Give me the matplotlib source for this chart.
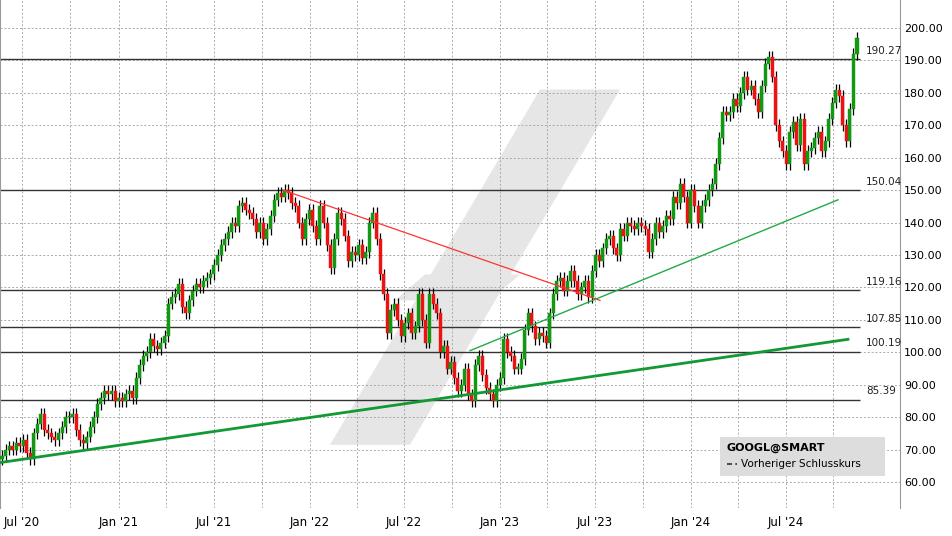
import matplotlib.pyplot as plt
from matplotlib.patches import Polygon, FancyBboxPatch

# weekly closes
closes = [68, 70, 71, 70, 72, 71, 73, 69, 67, 75, 78, 81, 76, 75, 74, 73, 75, 77, 80, 80,
          81, 76, 73, 72, 74, 77, 80, 84, 86, 88, 87, 88, 85, 86, 85, 87, 88, 86, 92, 96,
          99, 100, 104, 102, 101, 103, 105, 115, 117, 118, 121, 114, 112, 116, 119, 121, 120, 122,
          123, 124, 127, 130, 133, 135, 137, 140, 139, 145, 146, 144, 143, 141, 137, 140, 135, 138,
          142, 147, 149, 148, 150, 149, 146, 145, 140, 135, 141, 144, 139, 135, 145, 140, 133, 126,
          135, 143, 141, 136, 128, 131, 130, 133, 129, 131, 140, 143, 135, 124, 118, 106, 113, 115,
          110, 105, 109, 112, 106, 108, 118, 110, 103, 118, 115, 112, 100, 102, 95, 97, 92, 88,
          90, 95, 87, 85, 96, 99, 93, 89, 87, 85, 90, 92, 104, 100, 99, 95, 95, 98, 107, 112,
          108, 104, 106, 105, 103, 112, 118, 122, 123, 119, 122, 125, 122, 118, 120, 122, 117, 125,
          130, 128, 132, 135, 136, 132, 130, 138, 136, 140, 139, 138, 140, 139, 138, 131, 135, 140,
          137, 139, 142, 141, 148, 146, 152, 148, 140, 150, 145, 140, 145, 147, 150, 152, 158, 166,
          174, 173, 174, 178, 176, 180, 185, 181, 182, 178, 174, 182, 189, 191, 185, 170, 165, 162,
          158, 168, 171, 164, 172, 158, 162, 163, 166, 168, 162, 165, 172, 177, 181, 179, 170, 165,
          175, 192, 197]
first_open = 67

levels = [190.27, 150.04, 119.16, 107.85, 100.19, 85.39]
tick_labels = ["Jul '20", "Jan '21", "Jul '21", "Jan '22", "Jul '22", "Jan '23", "Jul '23", "Jan '24", "Jul '24"]
tick_px = [22, 119, 214, 310, 404, 500, 595, 691, 786]
red_trend = ([283, 600], [150, 116])
green_thin = ([470, 838], [100.5, 147])
green_thick = ([0, 848], [66, 104])

fig = plt.figure(figsize=(9.53, 5.36), dpi=100)
ax = fig.add_axes([0, 28 / 536, 900 / 953, 508 / 536])
ax.set_xlim(0, 900)
ax.set_ylim(52.0, 208.6)

# watermark
ax.add_patch(Polygon([(330, 71.5), (410, 71.5), (620, 181), (540, 181)], closed=True,
                     facecolor='#e6e6e6', edgecolor='none', zorder=0))
ax.add_patch(Polygon([(395, 116), (490, 116), (520, 124), (425, 124)], closed=True,
                     facecolor='#e6e6e6', edgecolor='none', zorder=0))

n = len(closes)
step = (857 - 2) / (n - 1)
opens = [first_open] + closes[:-1]
for i, (o, c) in enumerate(zip(opens, closes)):
    x = 2 + i * step
    col = '#119911' if c >= o else '#ee1111'
    ax.vlines(x, min(o, c) - 1.8, max(o, c) + 1.8, color='black', lw=0.9, zorder=3)
    ax.bar(x, max(abs(c - o), 0.4), bottom=min(o, c), width=step * 0.85,
           color=col, edgecolor=col, lw=0.3, zorder=4)

for lv in levels:
    ax.hlines(lv, 0, 860, color='#333333', lw=1.0, zorder=2)
    ax.text(866, lv + 1.0, f"{lv:.2f}", fontsize=7.5, va='bottom', color='#222222')

ax.plot(*red_trend, color='#ff3333', lw=0.9, zorder=5)
ax.plot(*green_thin, color='#22aa44', lw=1.0, zorder=5)
ax.plot(*green_thick, color='#119933', lw=2.0, zorder=5)

grid_px = tick_px + [(a + b) / 2 for a, b in zip(tick_px[:-1], tick_px[1:])] + [tick_px[-1] + 47.5]
for gx in grid_px:
    ax.axvline(gx, color='#aaaaaa', ls=(0, (2, 2)), lw=0.7, zorder=1)
for gy in range(60, 201, 10):
    ax.axhline(gy, color='#aaaaaa', ls=(0, (2, 2)), lw=0.7, zorder=1)

ax.set_xticks(tick_px)
ax.set_xticklabels(tick_labels, fontsize=8.5)
ax.set_yticks(range(60, 201, 10))
ax.set_yticklabels([f"{v:.2f}" for v in range(60, 201, 10)], fontsize=8)
ax.yaxis.tick_right()
ax.tick_params(axis='x', length=0, pad=6)
ax.tick_params(axis='y', length=0, pad=3)
for s in ['top', 'bottom']:
    ax.spines[s].set_visible(False)
ax.spines['left'].set_color('#999999')
ax.spines['right'].set_color('#999999')

# legend box
ax.add_patch(FancyBboxPatch((720, 62), 165, 12, boxstyle='square,pad=0', facecolor='#dddddd',
                            edgecolor='none', zorder=6))
ax.text(727, 70.5, "GOOGL@SMART", fontsize=8, fontweight='bold', va='center', zorder=7)
ax.plot([727, 737], [65.5, 65.5], color='#333333', ls=(0, (3, 2)), lw=1.2, zorder=7)
ax.text(741, 65.5, "Vorheriger Schlusskurs", fontsize=7.5, va='center', zorder=7)

fig.savefig('out.png', dpi=100)
